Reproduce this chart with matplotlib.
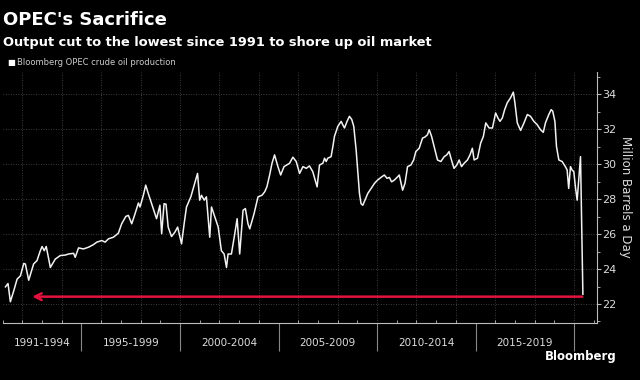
import matplotlib
matplotlib.use("Agg")
import matplotlib.pyplot as plt
from matplotlib.ticker import MultipleLocator

# OPEC crude output, million barrels a day (decimal years)
years = [1991.14, 1991.27, 1991.39, 1991.56, 1991.73, 1991.90, 1992.07, 1992.15, 1992.32, 1992.57,
         1992.74, 1992.91, 1993.00, 1993.11, 1993.21, 1993.42, 1993.67, 1993.92, 1994.18, 1994.34,
         1994.60, 1994.68, 1994.85, 1995.10, 1995.36, 1995.61, 1995.78, 1996.03, 1996.20, 1996.37,
         1996.62, 1996.87, 1997.04, 1997.25, 1997.38, 1997.55, 1997.72, 1997.89, 1997.97, 1998.14,
         1998.26, 1998.39, 1998.56, 1998.81, 1998.98, 1999.07, 1999.19, 1999.29, 1999.40, 1999.57,
         1999.74, 1999.88, 2000.08, 2000.21, 2000.33, 2000.55, 2000.72, 2000.89, 2001.00, 2001.09,
         2001.23, 2001.34, 2001.51, 2001.60, 2001.77, 2001.94, 2002.10, 2002.24, 2002.36, 2002.44,
         2002.61, 2002.78, 2002.90, 2003.03, 2003.20, 2003.32, 2003.45, 2003.54, 2003.76, 2003.96,
         2004.16, 2004.30, 2004.41, 2004.55, 2004.67, 2004.80, 2004.97, 2005.11, 2005.28, 2005.56,
         2005.73, 2005.90, 2006.07, 2006.24, 2006.41, 2006.57, 2006.74, 2006.96, 2007.08, 2007.25,
         2007.34, 2007.42, 2007.50, 2007.67, 2007.76, 2007.84, 2008.01, 2008.18, 2008.26, 2008.35,
         2008.48, 2008.60, 2008.72, 2008.82, 2008.94, 2009.02, 2009.11, 2009.19, 2009.28, 2009.39,
         2009.53, 2009.70, 2009.87, 2010.03, 2010.20, 2010.37, 2010.51, 2010.63, 2010.74, 2010.88,
         2011.05, 2011.13, 2011.30, 2011.42, 2011.55, 2011.72, 2011.86, 2011.97, 2012.14, 2012.31,
         2012.43, 2012.56, 2012.65, 2012.77, 2012.90, 2013.07, 2013.24, 2013.41, 2013.54, 2013.66,
         2013.78, 2013.91, 2014.05, 2014.17, 2014.29, 2014.42, 2014.59, 2014.72, 2014.84, 2014.93,
         2015.10, 2015.26, 2015.40, 2015.52, 2015.69, 2015.86, 2016.02, 2016.14, 2016.24, 2016.36,
         2016.48, 2016.61, 2016.78, 2016.92, 2017.00, 2017.12, 2017.20, 2017.29, 2017.46, 2017.63,
         2017.79, 2017.96, 2018.13, 2018.30, 2018.44, 2018.55, 2018.72, 2018.84, 2018.92, 2019.03,
         2019.11, 2019.23, 2019.40, 2019.56, 2019.65, 2019.73, 2019.82, 2019.90, 2019.99, 2020.07,
         2020.16, 2020.33, 2020.45]
output = [22.98, 23.17, 22.13, 22.75, 23.42, 23.61, 24.32, 24.29, 23.36, 24.29,
          24.48, 25.05, 25.29, 25.05, 25.29, 24.09, 24.57, 24.77, 24.80, 24.86,
          24.90, 24.67, 25.21, 25.15, 25.25, 25.40, 25.54, 25.63, 25.54, 25.73,
          25.82, 26.05, 26.59, 27.01, 27.07, 26.59, 27.17, 27.78, 27.55, 28.22,
          28.80, 28.32, 27.74, 26.88, 27.65, 26.02, 27.74, 27.71, 26.40, 25.86,
          26.11, 26.40, 25.44, 26.59, 27.55, 28.13, 28.80, 29.47, 27.94, 28.22,
          27.94, 28.13, 25.82, 27.55, 26.98, 26.40, 25.05, 24.86, 24.09, 24.86,
          24.86, 26.02, 26.88, 24.86, 27.36, 27.46, 26.59, 26.30, 27.17, 28.13,
          28.22, 28.42, 28.70, 29.38, 30.05, 30.53, 29.86, 29.38, 29.86, 30.05,
          30.40, 30.15, 29.47, 29.86, 29.76, 29.90, 29.57, 28.70, 29.95, 30.05,
          30.34, 30.15, 30.34, 30.43, 31.01, 31.59, 32.16, 32.45, 32.26, 32.07,
          32.45, 32.74, 32.55, 32.16, 30.82, 29.67, 28.32, 27.74, 27.65, 27.94,
          28.32, 28.61, 28.90, 29.09, 29.24, 29.38, 29.19, 29.24, 28.99, 29.09,
          29.28, 29.38, 28.51, 28.90, 29.86, 29.95, 30.24, 30.72, 30.91, 31.49,
          31.55, 31.68, 31.97, 31.59, 31.01, 30.24, 30.15, 30.43, 30.53, 30.72,
          30.24, 29.76, 29.95, 30.24, 29.86, 30.05, 30.24, 30.53, 30.91, 30.24,
          30.34, 31.20, 31.59, 32.36, 32.07, 32.07, 32.93, 32.64, 32.45, 32.64,
          33.12, 33.51, 33.80, 34.12, 33.51, 32.36, 32.16, 31.93, 32.36, 32.84,
          32.74, 32.45, 32.26, 31.97, 31.82, 32.36, 32.84, 33.12, 33.03, 32.45,
          31.01, 30.24, 30.15, 29.86, 29.67, 28.61, 29.86, 29.67, 29.57, 28.70,
          27.94, 30.43, 22.56]

period_labels = ["1991-1994", "1995-1999", "2000-2004", "2005-2009", "2010-2014", "2015-2019"]
period_mids = [1993, 1997.5, 2002.5, 2007.5, 2012.5, 2017.5]
separators = [1995, 2000, 2005, 2010, 2015, 2020]

arrow_level = 22.42
arrow_from = 2020.42
arrow_to = 1992.5

fig = plt.figure(figsize=(6.4, 3.8), dpi=100, facecolor="black")
ax = fig.add_axes([0.0042, 0.1508, 0.9281, 0.6605], facecolor="black")

# dotted grid
for yr in range(1992, 2021, 2):
    ax.axvline(yr, color="#505050", lw=0.6, ls=(0, (1, 2)), zorder=0)
ax.yaxis.grid(True, color="#505050", lw=0.6, ls=(0, (1, 2)))
ax.set_axisbelow(True)

ax.plot(years, output, color="#f2f2f2", lw=1.1)

ax.annotate("", xy=(arrow_to, arrow_level), xytext=(arrow_from, arrow_level),
            arrowprops=dict(arrowstyle="->", color="#e3123f", lw=1.8,
                            mutation_scale=12, shrinkA=0, shrinkB=0))

ax.set_xlim(1991.0, 2021.15)
ax.set_ylim(20.93, 35.29)

ax.spines["left"].set_visible(False)
ax.spines["top"].set_visible(False)
for s in ["bottom", "right"]:
    ax.spines[s].set_color("#bbbbbb")
    ax.spines[s].set_linewidth(0.8)

# y axis on the right
ax.yaxis.tick_right()
ax.yaxis.set_major_locator(MultipleLocator(2))
ax.yaxis.set_minor_locator(MultipleLocator(1))
ax.tick_params(axis="y", which="major", colors="#bbbbbb", labelcolor="#dddddd",
               labelsize=8, length=3, width=0.8, pad=1)
ax.tick_params(axis="y", which="minor", colors="#bbbbbb", length=2, width=0.6)
ax.set_ylabel("Million Barrels a Day", color="#dddddd", fontsize=8.5, rotation=270, labelpad=11)
ax.yaxis.set_label_position("right")

# x axis: separators between periods, yearly minor ticks
ax.set_xticks(separators)
ax.set_xticklabels([])
ax.xaxis.set_minor_locator(MultipleLocator(1))
ax.tick_params(axis="x", which="major", colors="#888888", length=20, width=0.8)
ax.tick_params(axis="x", which="minor", colors="#bbbbbb", length=2, width=0.6, direction="in")
for lab, mid in zip(period_labels, period_mids):
    ax.text(mid, -0.08, lab, transform=ax.get_xaxis_transform(), ha="center", va="center",
            color="#dddddd", fontsize=7.5)

fig.text(0.005, 0.935, "OPEC's Sacrifice", color="white", fontsize=13, fontweight="bold",
         ha="left", va="baseline")
fig.text(0.005, 0.878, "Output cut to the lowest since 1991 to shore up oil market", color="white",
         fontsize=9.4, fontweight="bold", ha="left", va="baseline")
fig.text(0.012, 0.835, "\u25a0", color="white", fontsize=6, ha="left", va="center")
fig.text(0.026, 0.835, "Bloomberg OPEC crude oil production", color="#cccccc", fontsize=6,
         ha="left", va="center")
fig.text(0.963, 0.062, "Bloomberg", color="white", fontsize=8.5, fontweight="bold",
         ha="right", va="center")

fig.savefig("out.png", dpi=100, facecolor="black")
